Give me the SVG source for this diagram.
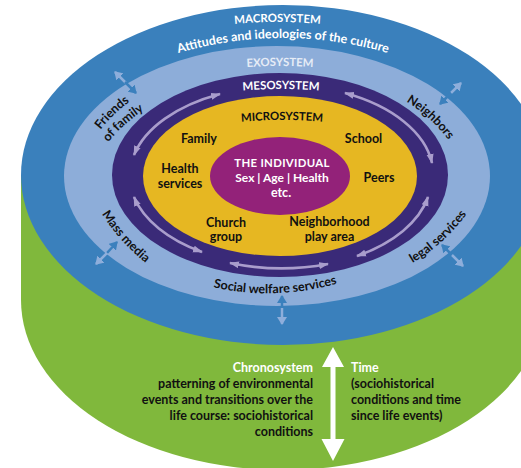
<svg xmlns="http://www.w3.org/2000/svg" width="521" height="468" viewBox="0 0 521 468">
<style>
text{font-family:"Lato","Liberation Sans",sans-serif;font-weight:700;font-size:12.5px;fill:#111}
.w{fill:#fff}.m{text-anchor:middle}.e{text-anchor:end}
.t{fill:#e6ecf6}
.cap{font-size:11.4px}
.arc{fill:none;stroke:#a99dcc;stroke-width:2.6}
.dark{fill:none;stroke:#3b80bd;stroke-width:2.5}
.lite{fill:none;stroke:#8eaedb;stroke-width:2.5}
</style>
<defs>
<marker id="ap" markerUnits="userSpaceOnUse" markerWidth="10" markerHeight="8" refX="9" refY="4" orient="auto-start-reverse"><path d="M0 .5L10 4L0 7.500z" fill="#a99dcc"/></marker>
<marker id="ad" markerUnits="userSpaceOnUse" markerWidth="8" markerHeight="10" refX="7" refY="5" orient="auto"><path d="M0 0L8 5L0 10z" fill="#3b80bd"/></marker>
<marker id="al" markerUnits="userSpaceOnUse" markerWidth="8" markerHeight="10" refX="7" refY="5" orient="auto"><path d="M0 0L8 5L0 10z" fill="#8eaedb"/></marker>
<path id="p1" d="M140 66Q283 10 426 66"/>
<path id="p2" d="M180 32Q277 12 375 32"/>
<path id="p3" d="M200 72Q280 60 360 72"/>
<path id="p4" d="M200 96Q281 82 362 96"/>
<path id="p5" d="M200 127Q282 113 364 127"/>
<path id="p6" d="M96 136Q110 115 136 97"/>
<path id="p7" d="M104 148Q120 125 150 106"/>
<path id="p8" d="M391 94Q431 111 458 154"/>
<path id="p9" d="M91 195Q115 243 163 276"/>
<path id="p10" d="M395 272Q445 250 478 198"/>
<path id="p11" d="M190 281Q275 308 360 276"/>
</defs>
<g id="chronosystem">
<path d="M21 175V300A262 170 0 0 0 545 300V175z" fill="#80b83c"/>
<text class="w e" x="313" y="372">Chronosystem</text>
<text class="e" x="313" y="388">patterning of environmental</text>
<text class="e" x="313" y="404">events and transitions over the</text>
<text class="e" x="313" y="420">life course: sociohistorical</text>
<text class="e" x="313" y="436">conditions</text>
<text class="w" x="351" y="372">Time</text>
<text x="351" y="388">(sociohistorical</text>
<text x="351" y="404">conditions and time</text>
<text x="351" y="420">since life events)</text>
</g>
<g id="macrosystem">
<ellipse cx="283" cy="175" rx="262" ry="170" fill="#3a80bc"/>
<text class="w cap"><textPath href="#p2" startOffset="50%" text-anchor="middle">MACROSYSTEM</textPath></text>
<text class="w"><textPath href="#p1" startOffset="50%" text-anchor="middle">Attitudes and ideologies of the culture</textPath></text>
</g>
<g id="exosystem">
<ellipse cx="277" cy="176" rx="213" ry="130" fill="#8dadd9"/>
<text class="t cap"><textPath href="#p3" startOffset="50%" text-anchor="middle">EXOSYSTEM</textPath></text>
<text><textPath href="#p6" startOffset="50%" text-anchor="middle">Friends</textPath></text>
<text><textPath href="#p7" startOffset="50%" text-anchor="middle">of family</textPath></text>
<text><textPath href="#p8" startOffset="50%" text-anchor="middle">Neighbors</textPath></text>
<text><textPath href="#p9" startOffset="50%" text-anchor="middle">Mass media</textPath></text>
<text><textPath href="#p10" startOffset="50%" text-anchor="middle">legal services</textPath></text>
<text><textPath href="#p11" startOffset="50%" text-anchor="middle">Social welfare services</textPath></text>
</g>
<g id="mesosystem">
<ellipse cx="280" cy="175" rx="168" ry="102" fill="#3a2a78"/>
<text class="w cap"><textPath href="#p4" startOffset="50%" text-anchor="middle">MESOSYSTEM</textPath></text>
</g>
<g id="microsystem">
<ellipse cx="280" cy="176" rx="137" ry="80" fill="#e6b722"/>
<text class="cap"><textPath href="#p5" startOffset="50%" text-anchor="middle">MICROSYSTEM</textPath></text>
<text class="m" x="199" y="143">Family</text>
<text class="m" x="180" y="173">Health</text>
<text class="m" x="180" y="188">services</text>
<text class="m" x="363.500" y="143">School</text>
<text class="m" x="379" y="182">Peers</text>
<text class="m" x="226" y="227">Church</text>
<text class="m" x="226" y="241">group</text>
<text class="m" x="329.500" y="226">Neighborhood</text>
<text class="m" x="329.500" y="241">play area</text>
</g>
<g id="individual">
<ellipse cx="280" cy="176" rx="70" ry="39" fill="#932279"/>
<text class="w m cap" x="282" y="167" style="letter-spacing:.3px">THE INDIVIDUAL</text>
<text class="w m" x="282" y="182" style="font-size:12px">Sex | Age | Health</text>
<text class="w m" x="281" y="197">etc.</text>
</g>
<g id="connectors">
<path class="arc" marker-start="url(#ap)" marker-end="url(#ap)" d="M220 94A153 90 0 0 0 134 155"/>
<path class="arc" marker-start="url(#ap)" marker-end="url(#ap)" d="M345 93A153 90 0 0 1 432 163"/>
<path class="arc" marker-start="url(#ap)" marker-end="url(#ap)" d="M428 197A153 90 0 0 1 357 256"/>
<path class="arc" marker-start="url(#ap)" marker-end="url(#ap)" d="M230 263A153 90 0 0 0 328 264"/>
<path class="arc" marker-start="url(#ap)" marker-end="url(#ap)" d="M134 197A153 90 0 0 0 202 252"/>
<path class="lite" marker-end="url(#al)" d="M126 83L115 72"/><path class="dark" marker-end="url(#ad)" d="M125 82L136 93"/>
<path class="lite" marker-end="url(#al)" d="M451 93L461 83"/><path class="dark" marker-end="url(#ad)" d="M451 93L440 104"/>
<path class="dark" marker-end="url(#ad)" d="M107 253L117 242"/><path class="lite" marker-end="url(#al)" d="M107 253L96 264"/>
<path class="dark" marker-end="url(#ad)" d="M452 255L442 245"/><path class="lite" marker-end="url(#al)" d="M452 255L463 266"/>
<path class="dark" marker-end="url(#ad)" d="M282 310V296"/><path class="lite" marker-end="url(#al)" d="M282 308V324"/>
<path fill="#fff" d="M333 347L344 367H335.500V439H344.500L333 461L321.500 439H330.500V367H322z"/>
</g>
</svg>
